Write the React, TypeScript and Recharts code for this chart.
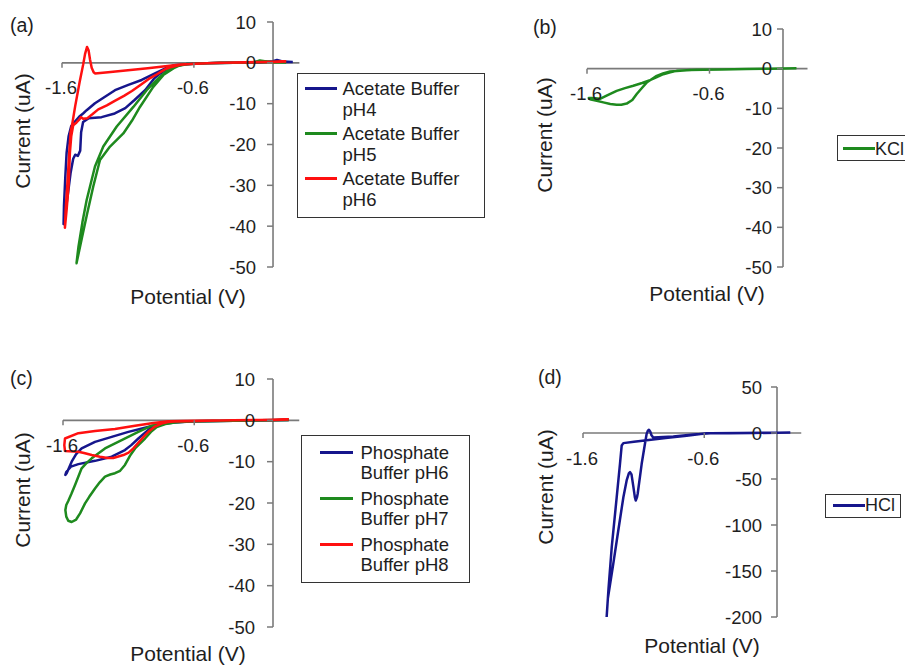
import React from 'react';
import { LineChart, Line, XAxis, YAxis, ReferenceLine, ReferenceDot, Legend } from 'recharts';

type Pt = [number, number];

// Cyclic voltammograms: [potential (V), current (uA)] in scan order
const acetatePH4: Pt[] = [
  [0.15, 0.2], [0.08, 0.3], [0.03, 0.7], [0.0, 0.4], [-0.1, 0.1], [-0.3, 0.0], [-0.5, -0.1],
  [-0.65, -0.3], [-0.75, -0.8], [-0.82, -1.8], [-0.86, -2.7], [-0.9, -3.8], [-0.97, -6.7],
  [-1.05, -9.1], [-1.12, -11.1], [-1.2, -12.4], [-1.3, -13.3], [-1.4, -13.6], [-1.44, -14.5],
  [-1.455, -17], [-1.462, -21.5], [-1.48, -22.8], [-1.5, -22.5], [-1.515, -23.5], [-1.535, -27],
  [-1.555, -32], [-1.575, -37], [-1.588, -39.5], [-1.585, -35], [-1.575, -28], [-1.565, -22],
  [-1.55, -18], [-1.53, -15.5], [-1.5, -14.3], [-1.47, -13.2], [-1.44, -12.4], [-1.413, -11.6],
  [-1.35, -9.9], [-1.274, -8.3], [-1.198, -6.7], [-1.097, -5.4], [-0.996, -4.2], [-0.895, -2.6],
  [-0.82, -1.4], [-0.75, -0.6], [-0.6, -0.2], [-0.4, 0.0], [-0.2, 0.1], [0.0, 0.3], [0.1, 0.2], [0.15, 0.2],
];

const acetatePH5: Pt[] = [
  [0.1, 0.1], [0.0, 0.1], [-0.1, 0.6], [-0.15, 0.1], [-0.3, 0.0], [-0.5, -0.1], [-0.65, -0.3],
  [-0.72, -0.8], [-0.756, -1.35], [-0.832, -3.0], [-0.908, -5.9], [-1.009, -10.8], [-1.07, -14.2],
  [-1.135, -17.3], [-1.236, -20.5], [-1.312, -23.8], [-1.363, -30.3], [-1.41, -37], [-1.45, -43],
  [-1.49, -49.1], [-1.475, -45], [-1.445, -39], [-1.413, -33.6], [-1.35, -25.4], [-1.287, -20.5],
  [-1.185, -15.6], [-1.059, -10.8], [-0.958, -6.7], [-0.857, -3.4], [-0.78, -1.35], [-0.7, -0.5],
  [-0.6, -0.2], [-0.4, 0.0], [-0.2, 0.1], [0.0, 0.2], [0.1, 0.1],
];

const acetatePH6: Pt[] = [
  [0.1, 0.3], [0.0, 0.2], [-0.2, 0.1], [-0.4, 0.0], [-0.6, -0.2], [-0.7, -0.5], [-0.77, -1.0],
  [-0.82, -1.6], [-0.88, -2.8], [-0.945, -4.0], [-1.0, -5.3], [-1.07, -6.9], [-1.13, -8.1],
  [-1.2, -9.3], [-1.26, -10.4], [-1.325, -11.4], [-1.37, -12.6], [-1.41, -13.6], [-1.44, -13.7],
  [-1.455, -13.3], [-1.47, -13.9], [-1.49, -14.6], [-1.515, -15.3], [-1.53, -18], [-1.54, -22],
  [-1.55, -30], [-1.565, -36], [-1.578, -40.4], [-1.572, -36], [-1.558, -29], [-1.545, -22],
  [-1.535, -17], [-1.525, -15.5], [-1.5, -10.6], [-1.467, -4.8], [-1.44, -0.5], [-1.425, 2.2],
  [-1.41, 3.9], [-1.398, 3.0], [-1.388, 0.9], [-1.375, -1.2], [-1.36, -2.3], [-1.35, -2.6],
  [-1.25, -2.3], [-1.1, -1.8], [-0.95, -1.3], [-0.8, -0.8], [-0.7, -0.4], [-0.5, -0.1],
  [-0.3, 0.1], [-0.1, 0.2], [0.1, 0.3],
];

const kcl: Pt[] = [
  [0.11, 0.1], [-0.1, 0.0], [-0.3, -0.1], [-0.5, -0.2], [-0.65, -0.3], [-0.759, -0.35], [-0.84, -0.5],
  [-0.922, -0.7], [-0.98, -1.2], [-1.031, -1.8], [-1.07, -2.6], [-1.113, -3.5], [-1.15, -4.8],
  [-1.194, -6.4], [-1.23, -7.9], [-1.276, -8.8], [-1.32, -9.1], [-1.358, -9.1], [-1.41, -8.9],
  [-1.467, -8.5], [-1.52, -8.1], [-1.576, -7.7], [-1.585, -7.4], [-1.55, -7.4], [-1.494, -7.6],
  [-1.44, -6.8], [-1.358, -5.6], [-1.29, -4.9], [-1.222, -4.3], [-1.15, -3.6], [-1.086, -2.9],
  [-1.03, -2.1], [-0.977, -1.4], [-0.92, -0.9], [-0.868, -0.55], [-0.705, -0.3], [-0.5, -0.2],
  [-0.3, -0.1], [-0.1, 0.0], [0.11, 0.1],
];

const phosphatePH6: Pt[] = [
  [0.12, 0.1], [-0.1, 0.0], [-0.3, -0.1], [-0.5, -0.2], [-0.65, -0.3], [-0.77, -0.5], [-0.874, -1.1],
  [-0.95, -2.3], [-1.026, -4.4], [-1.08, -6.0], [-1.128, -7.2], [-1.229, -8.8], [-1.356, -9.8],
  [-1.483, -10.6], [-1.54, -11.2], [-1.575, -12.5], [-1.582, -13.2], [-1.572, -12.8], [-1.534, -10.0],
  [-1.5, -8.2], [-1.458, -6.8], [-1.356, -5.2], [-1.229, -4.0], [-1.102, -2.8], [-0.975, -1.8],
  [-0.874, -1.0], [-0.75, -0.5], [-0.6, -0.2], [-0.3, -0.1], [0.0, 0.0], [0.12, 0.1],
];

const phosphatePH7: Pt[] = [
  [0.12, 0.1], [-0.1, 0.0], [-0.3, -0.1], [-0.5, -0.2], [-0.65, -0.3], [-0.75, -0.5], [-0.82, -0.9],
  [-0.886, -1.6], [-0.93, -2.8], [-0.975, -4.4], [-1.051, -6.8], [-1.09, -8.6], [-1.128, -10.8],
  [-1.165, -12.2], [-1.204, -12.8], [-1.24, -13.1], [-1.28, -13.6], [-1.32, -15.0], [-1.356, -16.5],
  [-1.4, -18.5], [-1.432, -20.1], [-1.47, -22.5], [-1.5, -24.0], [-1.534, -24.6], [-1.56, -24.3],
  [-1.575, -23.3], [-1.582, -21.7], [-1.575, -20.5], [-1.56, -19.5], [-1.535, -17.7], [-1.509, -15.7],
  [-1.458, -11.6], [-1.42, -10.3], [-1.381, -9.2], [-1.28, -6.8], [-1.153, -4.8], [-1.026, -2.8],
  [-0.924, -1.3], [-0.8, -0.5], [-0.6, -0.2], [-0.3, -0.1], [0.0, 0.0], [0.12, 0.1],
];

const phosphatePH8: Pt[] = [
  [0.12, 0.2], [-0.1, 0.1], [-0.3, 0.0], [-0.5, -0.1], [-0.65, -0.2], [-0.75, -0.3], [-0.8, -0.4],
  [-0.85, -0.8], [-0.9, -1.5], [-0.94, -2.5], [-0.975, -3.6], [-1.02, -5.2], [-1.064, -6.8],
  [-1.1, -7.8], [-1.14, -8.4], [-1.217, -9.1], [-1.26, -9.1], [-1.318, -8.8], [-1.381, -8.4],
  [-1.44, -7.9], [-1.483, -7.6], [-1.585, -7.4], [-1.59, -6.0], [-1.585, -4.4], [-1.483, -3.1],
  [-1.356, -2.6], [-1.204, -2.1], [-1.051, -1.3], [-0.924, -0.7], [-0.798, -0.2], [-0.6, -0.1],
  [-0.3, 0.0], [0.0, 0.1], [0.12, 0.2],
];

const hcl: Pt[] = [
  [0.11, 0.5], [0.0, 0.3], [-0.2, 0.0], [-0.4, -0.2], [-0.58, -0.3], [-0.745, -3.0], [-0.9, -5.2],
  [-1.075, -7.8], [-1.18, -9.5], [-1.267, -11.0], [-1.281, -13.6], [-1.295, -33.5], [-1.322, -69.8],
  [-1.363, -124], [-1.39, -170], [-1.405, -200], [-1.395, -180], [-1.35, -142], [-1.309, -106],
  [-1.267, -69.8], [-1.24, -51.6], [-1.222, -44], [-1.212, -42.6], [-1.2, -45], [-1.185, -58],
  [-1.172, -70], [-1.165, -73.4], [-1.155, -70], [-1.149, -66], [-1.116, -33.5], [-1.089, -11.7],
  [-1.075, -0.9], [-1.065, 2.5], [-1.056, 3.5], [-1.045, 1.5], [-1.035, -2.5], [-1.02, -5.0],
  [-0.855, -3.8], [-0.69, -1.6], [-0.55, -0.4], [-0.3, 0.0], [0.0, 0.3], [0.11, 0.5],
];

const potentialTicks = [-1.6, -0.6];
const bufferCurrentTicks = [10, 0, -10, -20, -30, -40, -50];
const hclCurrentTicks = [50, 0, -50, -100, -150, -200];

const acetateNames = ['Acetate Buffer pH4', 'Acetate Buffer pH5', 'Acetate Buffer pH6'];
const phosphateNames = ['Phosphate Buffer pH6', 'Phosphate Buffer pH7', 'Phosphate Buffer pH8'];
const saltNames = ['KCl', 'HCl'];

const FONT = '"Liberation Sans", Arial, Helvetica, sans-serif';
const AXIS = '#7a7a7a';
const INK = '#1e1e1e';
const NAVY = '#16168c';
const GREEN = '#1e8a1e';
const RED = '#ff1010';

type Series = { name: string; data: Pt[]; color: string };

type LegendCfg = {
  left: number; top: number; width: number; height: number;
  wrap: number; padTop: number; padLeft: number; swatch: number; textGap: number;
  lineHeight: number; entryGap: number; fontSize: number;
};

type PanelCfg = {
  left: number; top: number; width: number; height: number;
  margin: { left: number; right: number; top: number; bottom: number };
  yDomain: [number, number];
  yTicks: number[];
  labelGap: number;
  series: Series[];
  legend: LegendCfg;
};

const toRows = (pts: Pt[]) => pts.map(([x, y]) => ({ x, y }));

const YTickShape = (props: any) => {
  const { cx, cy, text, gap } = props;
  return (
    <g>
      <line x1={cx - 6} x2={cx} y1={cy} y2={cy} stroke={AXIS} strokeWidth={1.5} />
      <text x={cx - gap} y={cy} dy="0.36em" textAnchor="end" fontSize={18.5} fill={INK} fontFamily={FONT}>
        {text}
      </text>
    </g>
  );
};

const XTickShape = (props: any) => {
  const { cx, cy, text } = props;
  return (
    <g>
      <line x1={cx} x2={cx} y1={cy} y2={cy + 5} stroke={AXIS} strokeWidth={1.5} />
      <text x={cx - 1} y={cy + 25} dy="0.36em" textAnchor="middle" fontSize={18.5} fill={INK} fontFamily={FONT}>
        {text}
      </text>
    </g>
  );
};

const BoxLegend = (props: any) => {
  const { payload, cfg } = props as { payload: any[]; cfg: LegendCfg };
  return (
    <div
      style={{
        boxSizing: 'border-box', width: cfg.width, height: cfg.height, border: '1.5px solid #333',
        background: '#fff', paddingTop: cfg.padTop, paddingLeft: cfg.padLeft, fontFamily: FONT,
        fontSize: cfg.fontSize, color: INK, overflow: 'hidden', whiteSpace: 'nowrap',
      }}
    >
      {(payload || []).map((entry: any, i: number) => {
        const words = String(entry.value).split(' ');
        const lines = cfg.wrap > 0 && words.length > cfg.wrap
          ? [words.slice(0, cfg.wrap).join(' '), words.slice(cfg.wrap).join(' ')]
          : [String(entry.value)];
        return (
          <div key={i} style={{ display: 'flex', alignItems: 'flex-start', marginBottom: cfg.entryGap }}>
            <div
              style={{
                width: cfg.swatch, height: 2.5, background: entry.color, flex: 'none',
                marginTop: cfg.lineHeight / 2 - 1.25, marginRight: cfg.textGap,
              }}
            />
            <div style={{ lineHeight: `${cfg.lineHeight}px` }}>
              {lines.map((l, j) => <div key={j}>{l}</div>)}
            </div>
          </div>
        );
      })}
    </div>
  );
};

const Panel = ({ cfg }: { cfg: PanelCfg }) => (
  <div style={{ position: 'absolute', left: cfg.left, top: cfg.top }}>
    <LineChart width={cfg.width} height={cfg.height} margin={cfg.margin}>
      <XAxis type="number" dataKey="x" domain={[-1.6, 0.2]} hide allowDataOverflow />
      <YAxis type="number" dataKey="y" domain={cfg.yDomain} hide allowDataOverflow />
      <ReferenceLine y={0} stroke={AXIS} strokeWidth={1.6} />
      <ReferenceLine x={0} stroke={AXIS} strokeWidth={1.6} />
      {cfg.series.map((s) => (
        <Line
          key={s.name}
          name={s.name}
          data={toRows(s.data)}
          dataKey="y"
          type="linear"
          stroke={s.color}
          strokeWidth={2.5}
          strokeLinejoin="round"
          dot={false}
          activeDot={false}
          isAnimationActive={false}
        />
      ))}
      {cfg.yTicks.map((v) => (
        <ReferenceDot
          key={`y${v}`}
          x={0}
          y={v}
          r={0}
          shape={(p: any) => <YTickShape {...p} text={String(v)} gap={cfg.labelGap} />}
        />
      ))}
      {potentialTicks.map((v) => (
        <ReferenceDot
          key={`x${v}`}
          x={v}
          y={0}
          r={0}
          shape={(p: any) => <XTickShape {...p} text={String(v)} />}
        />
      ))}
      <Legend
        layout="horizontal"
        align="center"
        verticalAlign="middle"
        wrapperStyle={{
          left: cfg.legend.left, top: cfg.legend.top, width: cfg.legend.width, height: cfg.legend.height,
        }}
        content={(p: any) => <BoxLegend {...p} cfg={cfg.legend} />}
      />
    </LineChart>
  </div>
);

const wideLegend = { wrap: 0, padTop: 0, padLeft: 5, swatch: 32, textGap: 0, lineHeight: 22, entryGap: 0, fontSize: 18 };

const panels: PanelCfg[] = [
  {
    left: 0, top: 0, width: 500, height: 320,
    margin: { left: 62, right: 200.6, top: 22, bottom: 53 },
    yDomain: [-50, 10], yTicks: bufferCurrentTicks, labelGap: 17,
    series: [
      { name: acetateNames[0], data: acetatePH4, color: NAVY },
      { name: acetateNames[1], data: acetatePH5, color: GREEN },
      { name: acetateNames[2], data: acetatePH6, color: RED },
    ],
    legend: {
      left: 297, top: 73, width: 188, height: 145, wrap: 2, padTop: 4, padLeft: 6.5, swatch: 32,
      textGap: 6, lineHeight: 21, entryGap: 3, fontSize: 18.5,
    },
  },
  {
    left: 520, top: 0, width: 400, height: 320,
    margin: { left: 67, right: 112.5, top: 29, bottom: 53 },
    yDomain: [-50, 10], yTicks: bufferCurrentTicks, labelGap: 11,
    series: [{ name: saltNames[0], data: kcl, color: GREEN }],
    legend: { left: 317, top: 135, width: 100, height: 26, ...wideLegend, padTop: 1.5 },
  },
  {
    left: 0, top: 340, width: 500, height: 320,
    margin: { left: 63, right: 200.75, top: 39, bottom: 33 },
    yDomain: [-50, 10], yTicks: bufferCurrentTicks, labelGap: 18,
    series: [
      { name: phosphateNames[0], data: phosphatePH6, color: NAVY },
      { name: phosphateNames[1], data: phosphatePH7, color: GREEN },
      { name: phosphateNames[2], data: phosphatePH8, color: RED },
    ],
    legend: {
      left: 301, top: 95, width: 169, height: 148, wrap: 1, padTop: 6.5, padLeft: 17.5, swatch: 33,
      textGap: 8, lineHeight: 20, entryGap: 6, fontSize: 18.5,
    },
  },
  {
    left: 520, top: 340, width: 385, height: 320,
    margin: { left: 63, right: 103.75, top: 47, bottom: 43 },
    yDomain: [-200, 50], yTicks: hclCurrentTicks, labelGap: 15,
    series: [{ name: saltNames[1], data: hcl, color: NAVY }],
    legend: { left: 305, top: 154, width: 76, height: 24, ...wideLegend, padLeft: 7, lineHeight: 21, fontSize: 18 },
  },
];

const titles = [
  { tag: '(a)', tagX: 10, tagY: 25, cur: [22, 131], pot: [188, 296] },
  { tag: '(b)', tagX: 533, tagY: 27, cur: [544, 135], pot: [707, 293] },
  { tag: '(c)', tagX: 10, tagY: 378, cur: [22, 490], pot: [188, 653] },
  { tag: '(d)', tagX: 538, tagY: 377, cur: [545, 487], pot: [702, 645] },
];

export default function App() {
  return (
    <div
      style={{
        position: 'absolute', left: 0, top: 0, width: 905, height: 665, overflow: 'hidden',
        background: '#fff', fontFamily: FONT,
      }}
    >
      {panels.map((p, i) => <Panel key={i} cfg={p} />)}
      <svg width={905} height={665} style={{ position: 'absolute', left: 0, top: 0, pointerEvents: 'none' }}>
        {titles.map((t) => (
          <g key={t.tag} fontFamily={FONT} fill={INK}>
            <text x={t.tagX} y={t.tagY} dy="0.36em" fontSize={19.5}>{t.tag}</text>
            <text
              x={t.cur[0]} y={t.cur[1]} dy="0.36em" fontSize={21} textAnchor="middle"
              transform={`rotate(-90 ${t.cur[0]} ${t.cur[1]})`}
            >
              Current (uA)
            </text>
            <text x={t.pot[0]} y={t.pot[1]} dy="0.36em" fontSize={21} textAnchor="middle">Potential (V)</text>
          </g>
        ))}
      </svg>
    </div>
  );
}
